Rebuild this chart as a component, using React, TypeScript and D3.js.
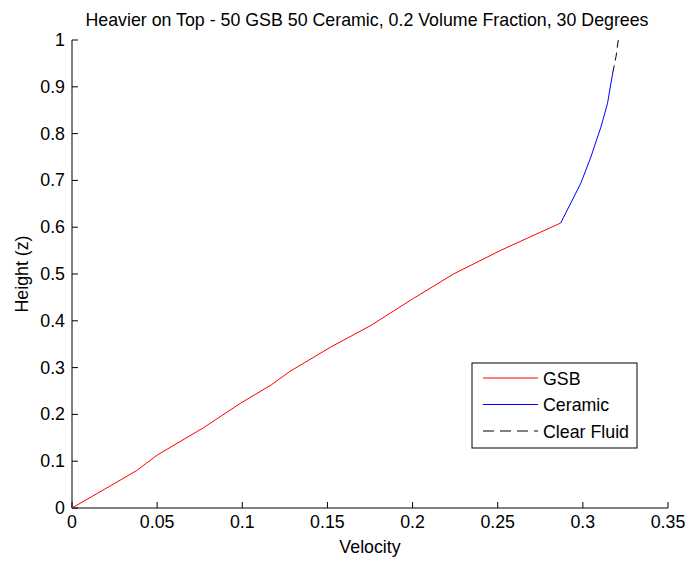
import React from "react";
import * as d3 from "d3";

// Velocity profile samples (velocity, height z) for each layer
const gsbVelocity = [0, 0.02, 0.038, 0.05, 0.077, 0.099, 0.117, 0.128, 0.152, 0.175, 0.2006, 0.224, 0.252, 0.287];
const gsbHeight = [0, 0.042, 0.08, 0.113, 0.171, 0.224, 0.263, 0.292, 0.344, 0.389, 0.448, 0.5, 0.551, 0.609];

const ceramicVelocity = [0.287, 0.2988, 0.3047, 0.3106, 0.3145, 0.3175];
const ceramicHeight = [0.609, 0.694, 0.75, 0.814, 0.865, 0.929];

const fluidVelocity = [0.3175, 0.3195, 0.3208];
const fluidHeight = [0.929, 0.965, 1.0];

const xTicks = [0, 0.05, 0.1, 0.15, 0.2, 0.25, 0.3, 0.35];
const yTicks = [0, 0.1, 0.2, 0.3, 0.4, 0.5, 0.6, 0.7, 0.8, 0.9, 1];

const legendLabels = ["GSB", "Ceramic", "Clear Fluid"];
const legendColors = ["#ff0000", "#0000ff", "#000000"];
const legendDash = [null, null, "11,6"];

const title = "Heavier on Top - 50 GSB 50 Ceramic, 0.2 Volume Fraction, 30 Degrees";

const W = 688;
const H = 561;
const left = 72;
const right = 668;
const top = 40;
const bottom = 508;

const font = "'Liberation Sans', Arial, Helvetica, sans-serif";
const fs = 17.8;

export default function App() {
  const x = d3.scaleLinear().domain([0, 0.35]).range([left, right]);
  const y = d3.scaleLinear().domain([0, 1]).range([bottom, top]);

  const line = d3
    .line<[number, number]>()
    .x((d) => x(d[0]))
    .y((d) => y(d[1]));

  const zip = (a: number[], b: number[]): [number, number][] => a.map((v, i) => [v, b[i]]);

  const series = [
    { pts: zip(gsbVelocity, gsbHeight), color: legendColors[0], dash: null },
    { pts: zip(ceramicVelocity, ceramicHeight), color: legendColors[1], dash: null },
    { pts: zip(fluidVelocity, fluidHeight), color: legendColors[2], dash: "8,5" },
  ];

  const fmt = (v: number) => (v === 0 ? "0" : String(+v.toFixed(2)));

  const legX = 472;
  const legY = 363;
  const legW = 165;
  const legH = 85;

  return (
    <svg
      width={W}
      height={H}
      style={{ position: "absolute", left: 0, top: 0, background: "#fff" }}
      fontFamily={font}
    >
      <rect x={0} y={0} width={W} height={H} fill="#fff" />
      <text x={367} y={26} fontSize={fs} textAnchor="middle" fill="#000">
        {title}
      </text>

      {/* axes */}
      <line x1={left} y1={top} x2={left} y2={bottom} stroke="#000" strokeWidth={1} />
      <line x1={left} y1={bottom} x2={right} y2={bottom} stroke="#000" strokeWidth={1} />

      {xTicks.map((t) => (
        <g key={"x" + t}>
          <line x1={x(t)} x2={x(t)} y1={bottom} y2={bottom - 6} stroke="#000" />
          <text x={x(t)} y={bottom + 20} fontSize={fs} textAnchor="middle" fill="#000">
            {fmt(t)}
          </text>
        </g>
      ))}
      {yTicks.map((t) => (
        <g key={"y" + t}>
          <line x1={left} x2={left + 6} y1={y(t)} y2={y(t)} stroke="#000" />
          <text x={left - 7} y={y(t) + 6} fontSize={fs} textAnchor="end" fill="#000">
            {fmt(t)}
          </text>
        </g>
      ))}

      <text x={370} y={553} fontSize={fs} textAnchor="middle" fill="#000">
        Velocity
      </text>
      <text
        transform={`translate(28,${(top + bottom) / 2}) rotate(-90)`}
        fontSize={fs}
        textAnchor="middle"
        fill="#000"
      >
        Height (z)
      </text>

      {series.map((s, i) => (
        <path
          key={i}
          d={line(s.pts) || ""}
          fill="none"
          stroke={s.color}
          strokeWidth={1}
          strokeDasharray={s.dash || undefined}
        />
      ))}

      {/* legend */}
      <rect x={legX} y={legY} width={legW} height={legH} fill="#fff" stroke="#000" strokeWidth={1} />
      {legendLabels.map((lab, i) => {
        const ly = legY + 15 + i * 26.5;
        return (
          <g key={lab}>
            <line
              x1={legX + 11}
              x2={legX + 66}
              y1={ly}
              y2={ly}
              stroke={legendColors[i]}
              strokeWidth={1}
              strokeDasharray={legendDash[i] || undefined}
            />
            <text x={legX + 71} y={ly + 6.5} fontSize={fs} fill="#000">
              {lab}
            </text>
          </g>
        );
      })}
    </svg>
  );
}
